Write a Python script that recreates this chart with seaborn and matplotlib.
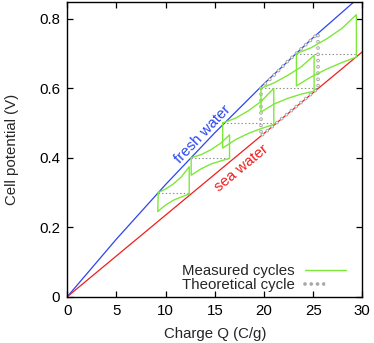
import numpy as np
import matplotlib
matplotlib.use('Agg')
import matplotlib.pyplot as plt
import seaborn as sns
from matplotlib.legend_handler import HandlerTuple

# equilibrium lines
fresh_q = [0, 5, 10, 15, 20, 25, 30]
fresh_v = [0, 0.166, 0.323, 0.472, 0.613, 0.746, 0.870]
sea_q = [0, 30]
sea_v = [0, 0.705]

# measured cycles: top-left -> drop -> lower branch -> rise -> upper branch back
cycle1_q = [9.25, 9.2, 10.0, 10.8, 11.6, 12.4, 12.4, 11.6, 10.8, 10.0, 9.25]
cycle1_v = [0.300, 0.245, 0.264, 0.278, 0.287, 0.296, 0.374, 0.345, 0.325, 0.310, 0.300]
cycle2_q = [12.6, 12.6, 13.6, 14.6, 15.6, 16.5, 16.5, 15.6, 14.6, 13.6, 12.6]
cycle2_v = [0.400, 0.350, 0.368, 0.382, 0.391, 0.398, 0.466, 0.442, 0.423, 0.409, 0.400]
cycle3_q = [15.8, 15.8, 17.1, 18.4, 19.7, 21.0, 21.0, 19.7, 18.4, 17.1, 15.8]
cycle3_v = [0.500, 0.428, 0.452, 0.470, 0.484, 0.496, 0.600, 0.562, 0.535, 0.514, 0.500]
cycle4_q = [19.7, 19.7, 21.05, 22.4, 23.75, 25.1, 25.1, 23.75, 22.4, 21.05, 19.7]
cycle4_v = [0.600, 0.532, 0.555, 0.571, 0.583, 0.592, 0.695, 0.661, 0.637, 0.616, 0.600]
cycle5_q = [23.3, 23.3, 24.8, 26.35, 27.9, 29.4, 29.4, 27.9, 26.35, 24.8, 23.3]
cycle5_v = [0.700, 0.607, 0.633, 0.655, 0.674, 0.690, 0.812, 0.772, 0.742, 0.717, 0.700]
cycles = [(cycle1_q, cycle1_v), (cycle2_q, cycle2_v), (cycle3_q, cycle3_v),
          (cycle4_q, cycle4_v), (cycle5_q, cycle5_v)]

# dotted guides at each switching level
guide_v = [0.3, 0.4, 0.5, 0.6, 0.7]
guide_q0 = [9.25, 12.6, 15.8, 19.7, 23.3]
guide_q1 = [12.4, 16.5, 21.0, 25.4, 29.4]

# theoretical cycle
theory_q = [19.7, 22.6, 25.5, 25.5, 19.7, 19.7]
theory_v = [0.600, 0.683, 0.758, 0.600, 0.463, 0.600]

x_ticks = [0, 5, 10, 15, 20, 25, 30]
y_ticks = [0, 0.2, 0.4, 0.6, 0.8]
y_tick_labels = ['0', '0.2', '0.4', '0.6', '0.8']

sns.set_theme(style='ticks')
plt.rcParams['font.family'] = ['Liberation Sans', 'DejaVu Sans']
plt.rcParams['lines.scale_dashes'] = False
fs = 10.8

green = '#7de83a'
blue = '#2a45f0'
red = '#f01e1e'
grey = '#a8a8a8'

fig = plt.figure(figsize=(3.74, 3.43), dpi=100)
ax = fig.add_axes([0.1799, 0.135, 0.7888, 0.8606])
ax.set_xlim(0, 30)
ax.set_ylim(0, 0.85)

ax.hlines(guide_v, guide_q0, guide_q1, colors='#8c8c8c', linestyles=[(0, (1.0, 1.6))],
          lw=0.8, zorder=1.5)

sns.lineplot(x=fresh_q, y=fresh_v, sort=False, estimator=None, ax=ax, color=blue, lw=0.9, zorder=2)
sns.lineplot(x=sea_q, y=sea_v, sort=False, estimator=None, ax=ax, color=red, lw=0.9, zorder=2)

for q, v in cycles:
    sns.lineplot(x=q, y=v, sort=False, estimator=None, ax=ax, color=green, lw=1.0, zorder=3)
measured_handle = ax.lines[-1]

# theoretical cycle as small open circles
dots = (0, (0.001, 4.5))
sns.lineplot(x=theory_q, y=theory_v, sort=False, estimator=None, ax=ax,
             color=grey, lw=2.7, linestyle=dots, dash_capstyle='round', zorder=2.5)
sns.lineplot(x=theory_q, y=theory_v, sort=False, estimator=None, ax=ax,
             color='white', lw=1.3, linestyle=dots, dash_capstyle='round', zorder=2.5)
theory_handle = tuple(ax.lines[-2:])

ax.set_xticks(x_ticks)
ax.set_yticks(y_ticks)
ax.set_yticklabels(y_tick_labels)
ax.tick_params(direction='in', top=True, right=True, length=4, width=0.9,
               labelsize=fs, pad=5, colors='black')
for s in ax.spines.values():
    s.set_linewidth(1.0)
    s.set_color('black')

ax.set_xlabel('Charge Q (C/g)', fontsize=fs)
ax.set_ylabel('Cell potential (V)', fontsize=fs)
ax.xaxis.set_label_coords(0.5, -0.102)
ax.yaxis.set_label_coords(-0.165, 0.5)


def text_angle(x0, x1, y0, y1):
    p0 = ax.transData.transform((x0, y0))
    p1 = ax.transData.transform((x1, y1))
    return np.degrees(np.arctan2(p1[1] - p0[1], p1[0] - p0[0]))


ax.text(13.8, 0.468, 'fresh water', color=blue, fontsize=fs, ha='center', va='center',
        rotation=text_angle(10, 15, 0.323, 0.472), rotation_mode='anchor')
ax.text(17.7, 0.370, 'sea water', color=red, fontsize=fs, ha='center', va='center',
        rotation=text_angle(0, 30, 0, 0.705), rotation_mode='anchor')

ax.legend([measured_handle, theory_handle], ['Measured cycles', 'Theoretical cycle'],
          handler_map={tuple: HandlerTuple(ndivide=None, pad=0)},
          loc='lower right', bbox_to_anchor=(0.98, -0.02), frameon=False,
          markerfirst=False, fontsize=fs, handlelength=2.7, handletextpad=0.7,
          labelspacing=0.0, borderpad=0.2)

fig.savefig('out.png', dpi=100)
